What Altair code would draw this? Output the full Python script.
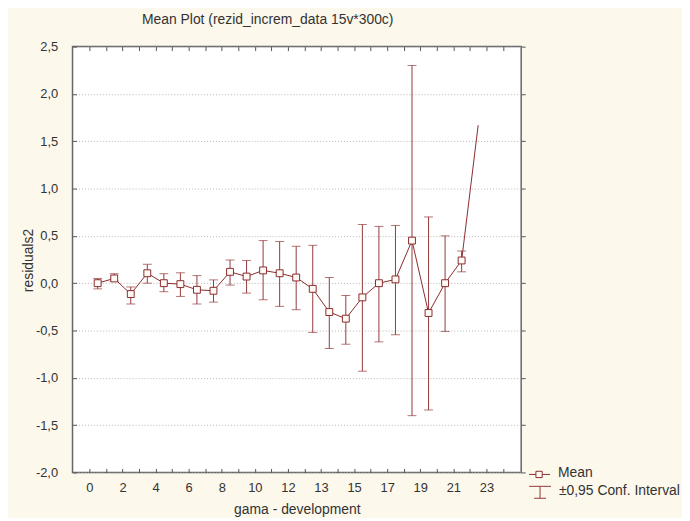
import altair as alt
import pandas as pd

# ---- data ----
group_idx = list(range(24))
means = [0.00, 0.05, -0.115, 0.105, 0.00, -0.01, -0.07, -0.08, 0.12, 0.07,
         0.135, 0.105, 0.06, -0.06, -0.305, -0.375, -0.15, 0.00, 0.04, 0.45,
         -0.315, 0.00, 0.24, 1.67]
upper = [0.05, 0.10, -0.04, 0.20, 0.10, 0.11, 0.08, 0.035, 0.245, 0.24,
         0.45, 0.44, 0.39, 0.40, 0.06, -0.13, 0.62, 0.60, 0.61, 2.30,
         0.70, 0.50, 0.34, None]
lower = [-0.06, 0.02, -0.22, 0.00, -0.09, -0.14, -0.22, -0.20, -0.02, -0.105,
         -0.175, -0.245, -0.28, -0.52, -0.69, -0.645, -0.93, -0.62, -0.545, -1.40,
         -1.34, -0.51, 0.12, None]
x_tick_labels = ["0", "2", "4", "6", "8", "10", "12", "13", "15", "17", "19", "21", "23"]
y_ticks = [-2.0, -1.5, -1.0, -0.5, 0.0, 0.5, 1.0, 1.5, 2.0, 2.5]

df = pd.DataFrame({"g": group_idx, "mean": means, "upper": upper, "lower": lower})
ci = df.dropna()

# axis slots (ticks between categories)
n_slots = 26
tick_vals = [u - 0.5 for u in range(n_slots)]
slot_labels = [x_tick_labels[u // 2] if (u % 2 == 0 and u // 2 < len(x_tick_labels)) else ""
               for u in range(n_slots)]
x_label_expr = "[" + ",".join("'%s'" % s for s in slot_labels) + "][round(datum.value + 0.5)]"
y_label_expr = "(datum.value < 0 ? '-' : '') + replace(format(abs(datum.value), '.1f'), '.', ',')"

C_LINE = "#8a2c2c"
C_ERR = "#94393b"
TXT = "#333333"
FONT = "Liberation Sans"

x_scale = alt.Scale(domain=[-1.52, 25.6], nice=False, zero=False)
y_scale = alt.Scale(domain=[-2.0, 2.5], nice=False, zero=False)

x_main_axis = alt.Axis(values=tick_vals, labelExpr=x_label_expr, tickSize=alt.ExprRef(expr="-4"),
                       tickColor="#555", labelPadding=13, labelOverlap=False, labelFlush=False,
                       domain=False, grid=False, title="gama - development",
                       titleX=226, titleY=37, titleBaseline="middle", titleAlign="center")
y_main_axis = alt.Axis(values=y_ticks, labelExpr=y_label_expr, tickSize=alt.ExprRef(expr="-4"),
                       tickColor="#555", labelPadding=19, domain=False, grid=True,
                       gridColor="#b5b5b5", gridDash=[1, 2], gridWidth=1,
                       title="residuals2", titleX=-44, titleY=215, titleAngle=-90,
                       titleBaseline="middle", titleAlign="center")
x_top_axis = alt.Axis(values=tick_vals, orient="top", labels=False, tickSize=alt.ExprRef(expr="-4"),
                      tickColor="#555", domain=False, grid=False, title=None)
y_right_axis = alt.Axis(values=y_ticks, orient="right", labels=False, tickSize=4,
                        tickColor="#555", domain=False, grid=False, title=None)

err_rules = alt.Chart(ci).mark_rule(color=C_ERR, strokeWidth=1).encode(
    x=alt.X("g:Q", scale=x_scale, axis=x_top_axis),
    y=alt.Y("lower:Q", scale=y_scale, axis=y_right_axis),
    y2="upper:Q",
)
cap_hi = alt.Chart(ci).mark_tick(color=C_ERR, orient="horizontal", size=9, thickness=1).encode(
    x=alt.X("g:Q", scale=x_scale, axis=None),
    y=alt.Y("upper:Q", scale=y_scale, axis=None),
)
cap_lo = alt.Chart(ci).mark_tick(color=C_ERR, orient="horizontal", size=9, thickness=1).encode(
    x=alt.X("g:Q", scale=x_scale, axis=None),
    y=alt.Y("lower:Q", scale=y_scale, axis=None),
)
line = alt.Chart(df).mark_line(color=C_LINE, strokeWidth=1).encode(
    x=alt.X("g:Q", scale=x_scale, axis=x_main_axis),
    y=alt.Y("mean:Q", scale=y_scale, axis=y_main_axis),
)
squares = alt.Chart(ci).mark_point(shape="square", filled=True, fill="#fffaf6", stroke=C_LINE,
                                   strokeWidth=1, size=48, opacity=1).encode(
    x=alt.X("g:Q", scale=x_scale, axis=None),
    y=alt.Y("mean:Q", scale=y_scale, axis=None),
)

one = alt.Data(values=[{"k": 1}])
leg_line = alt.Chart(one).mark_rule(color=C_LINE, strokeWidth=1).encode(
    x=alt.value(460), x2=alt.value(481), y=alt.value(431))
leg_sq = alt.Chart(one).mark_point(shape="square", filled=True, fill="#fffaf6", stroke=C_LINE,
                                   strokeWidth=1, size=40, opacity=1).encode(
    x=alt.value(470), y=alt.value(431))
leg_t1 = alt.Chart(one).mark_text(align="left", baseline="middle", font=FONT, fontSize=14,
                                  color=TXT).encode(
    x=alt.value(489), y=alt.value(430), text=alt.value("Mean"))
leg_e1 = alt.Chart(one).mark_rule(color=C_ERR, strokeWidth=1).encode(
    x=alt.value(460), x2=alt.value(482), y=alt.value(443))
leg_e2 = alt.Chart(one).mark_rule(color=C_ERR, strokeWidth=1).encode(
    x=alt.value(471), y=alt.value(443), y2=alt.value(455))
leg_e3 = alt.Chart(one).mark_rule(color=C_ERR, strokeWidth=1).encode(
    x=alt.value(465), x2=alt.value(477), y=alt.value(455))
leg_t2 = alt.Chart(one).mark_text(align="left", baseline="middle", font=FONT, fontSize=14,
                                  color=TXT).encode(
    x=alt.value(490), y=alt.value(448), text=alt.value("±0,95 Conf. Interval"))

chart = alt.layer(
    err_rules, cap_hi, cap_lo, line, squares,
    leg_line, leg_sq, leg_t1, leg_e1, leg_e2, leg_e3, leg_t2,
).resolve_axis(x="independent", y="independent").properties(
    width=452,
    height=429,
    background="#fcf8ec",
    autosize=alt.AutoSizeParams(type="none"),
    padding={"left": 65, "top": 37, "right": 162, "bottom": 44},
    title=alt.TitleParams("Mean Plot (rezid_increm_data 15v*300c)", anchor="start", frame="group",
                          dx=70, font=FONT, fontSize=14, fontWeight="normal", color=TXT, offset=14),
).configure_view(
    stroke="#666666", strokeWidth=1.5, fill="white"
).configure_axis(
    labelFont=FONT, labelFontSize=13, labelColor=TXT,
    titleFont=FONT, titleFontSize=14, titleFontWeight="normal", titleColor=TXT,
)

chart.save("out.html", embed_options={"renderer": "svg", "actions": False})
